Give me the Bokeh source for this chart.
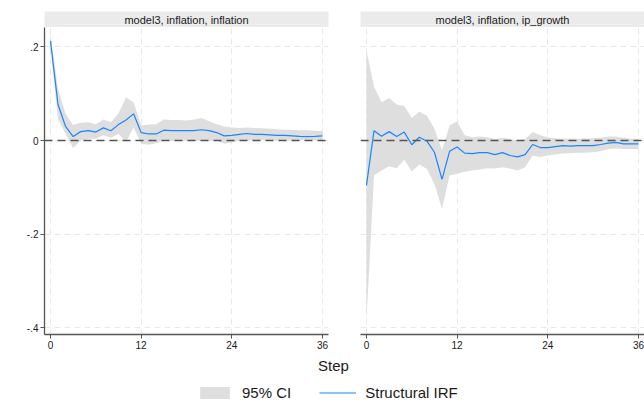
from bokeh.plotting import figure
from bokeh.layouts import column, row
from bokeh.models import Range1d, FixedTicker, Span, Legend, LegendItem, Label, ColumnDataSource
from bokeh.embed import file_html
from bokeh.resources import INLINE
from bokeh.core.properties import value

steps = list(range(37))
x_ticks = [0, 12, 24, 36]
y_ticks = [0.2, 0.0, -0.2, -0.4]
y_tick_labels = {0.2: ".2", 0.0: "0", -0.2: "-.2", -0.4: "-.4"}
panel_titles = ["model3, inflation, inflation", "model3, inflation, ip_growth"]
legend_labels = ["95% CI", "Structural IRF"]
x_title = "Step"

infl_irf = [0.213, 0.077, 0.030, 0.0085, 0.019, 0.021, 0.018, 0.027, 0.021, 0.034,
            0.044, 0.057, 0.017, 0.014, 0.014, 0.022, 0.021, 0.021, 0.021, 0.021,
            0.023, 0.021, 0.017, 0.010, 0.011, 0.013, 0.015, 0.013, 0.013, 0.012,
            0.011, 0.011, 0.010, 0.009, 0.0085, 0.009, 0.010]
infl_hi = [0.228, 0.110, 0.057, 0.033, 0.038, 0.039, 0.035, 0.045, 0.039, 0.058,
           0.092, 0.082, 0.032, 0.034, 0.035, 0.045, 0.044, 0.044, 0.043, 0.045,
           0.048, 0.041, 0.035, 0.030, 0.028, 0.027, 0.028, 0.027, 0.026, 0.025,
           0.024, 0.023, 0.023, 0.022, 0.022, 0.021, 0.021]
infl_lo = [0.198, 0.046, 0.014, -0.016, 0.000, 0.004, 0.004, 0.011, 0.006, 0.014,
           -0.003, 0.028, -0.007, -0.009, -0.006, 0.000, -0.001, -0.001, 0.000, 0.000,
           -0.001, -0.001, 0.000, -0.007, -0.004, 0.000, 0.001, 0.001, 0.001, 0.001,
           0.001, 0.001, 0.001, 0.001, 0.001, 0.001, 0.001]

ip_irf = [-0.096, 0.021, 0.009, 0.019, 0.0085, 0.018, -0.009, 0.007, -0.0014, -0.025,
          -0.083, -0.023, -0.014, -0.027, -0.028, -0.026, -0.026, -0.030, -0.026, -0.032,
          -0.035, -0.030, -0.0085, -0.015, -0.015, -0.013, -0.011, -0.012, -0.011, -0.011,
          -0.011, -0.0085, -0.0057, -0.004, -0.007, -0.007, -0.007]
ip_hi = [0.193, 0.115, 0.082, 0.091, 0.077, 0.074, 0.048, 0.062, 0.053, 0.025,
         -0.021, 0.032, 0.041, 0.011, 0.007, 0.0085, 0.007, 0.0035, 0.006, 0.0035,
         0.000, 0.0035, 0.018, 0.011, 0.007, 0.005, 0.004, 0.004, 0.004, 0.005,
         0.005, 0.006, 0.0085, 0.0085, 0.006, 0.004, 0.0035]
ip_lo = [-0.385, -0.075, -0.064, -0.055, -0.059, -0.041, -0.066, -0.051, -0.061, -0.093,
         -0.146, -0.075, -0.071, -0.067, -0.064, -0.062, -0.059, -0.060, -0.057, -0.060,
         -0.064, -0.057, -0.032, -0.035, -0.032, -0.030, -0.028, -0.027, -0.026, -0.026,
         -0.025, -0.023, -0.018, -0.017, -0.018, -0.018, -0.018]

FONT = "Liberation Sans"
CI_COLOR = "#dedede"
LINE_COLOR = "#1a85ff"
STRIP_COLOR = "#ebebeb"
AXIS_COLOR = "#555555"
TEXT_COLOR = "#1a1a1a"
X_RANGE = (-0.79, 36.8)
Y_RANGE = (-0.4145, 0.2415)


def header(title, w, left, right):
    h = figure(width=w, height=27, x_range=Range1d(0, 1), y_range=Range1d(0, 1),
               x_axis_type=None, y_axis_type=None, toolbar_location=None,
               output_backend="svg", min_border_left=left, min_border_right=right,
               min_border_top=11, min_border_bottom=0,
               background_fill_color=STRIP_COLOR, border_fill_color="white",
               outline_line_color=None)
    h.grid.visible = False
    h.text(x=[0.5], y=[0.5], text=[title], text_align="center", text_baseline="middle",
           text_font=value(FONT), text_font_size="11px", text_color=TEXT_COLOR)
    return h


def style_axis(ax, show):
    ax.axis_line_color = AXIS_COLOR if show else None
    ax.axis_line_width = 1.3
    ax.major_tick_line_color = AXIS_COLOR if show else None
    ax.major_tick_out = 4 if show else 0
    ax.major_tick_in = 0
    ax.minor_tick_line_color = None
    ax.minor_tick_out = 0
    ax.minor_tick_in = 0
    ax.major_label_standoff = 2 if show else 0
    ax.major_label_text_font = FONT
    ax.major_label_text_font_size = "10px" if show else "0px"
    ax.major_label_text_color = TEXT_COLOR if show else None


def panel(w, left, right, irf, lo, hi, show_y):
    p = figure(width=w, height=331, x_range=Range1d(*X_RANGE), y_range=Range1d(*Y_RANGE),
               toolbar_location=None, output_backend="svg",
               min_border_left=left, min_border_right=right, min_border_top=0,
               min_border_bottom=24, outline_line_color=None,
               background_fill_color="white", border_fill_color="white")
    p.varea(x=steps, y1=lo, y2=hi, fill_color=CI_COLOR)
    p.line(x=steps, y=irf, line_color=LINE_COLOR, line_width=1.2)
    p.add_layout(Span(location=0, dimension="width", line_color="#555555",
                      line_width=1.5, line_dash="8 5"))
    p.xaxis.ticker = FixedTicker(ticks=x_ticks)
    p.yaxis.ticker = FixedTicker(ticks=y_ticks)
    p.yaxis.major_label_overrides = y_tick_labels
    for g in (p.xgrid[0], p.ygrid[0]):
        g.grid_line_color = "#e9e9e9"
        g.grid_line_dash = "6 4"
        g.grid_line_width = 1
    style_axis(p.xaxis[0], True)
    style_axis(p.yaxis[0], show_y)
    return p


h1 = header(panel_titles[0], 330, 44, 2)
h2 = header(panel_titles[1], 314, 30, 0)
p1 = panel(330, 44, 2, infl_irf, infl_lo, infl_hi, True)
p2 = panel(314, 30, 0, ip_irf, ip_lo, ip_hi, False)

p3 = figure(width=644, height=44, x_range=Range1d(0, 1), y_range=Range1d(0, 1),
            x_axis_type=None, y_axis_type=None, toolbar_location=None,
            output_backend="svg", min_border=0, outline_line_color=None,
            background_fill_color="white", border_fill_color="white")
p3.grid.visible = False
# legend proxies placed outside the visible range
proxy = ColumnDataSource(data=dict(x=[5, 6], y=[5, 5], y1=[5, 5], y2=[6, 6]))
r_ci = p3.varea(x="x", y1="y1", y2="y2", source=proxy, fill_color=CI_COLOR)
r_ln = p3.line(x="x", y="y", source=proxy, line_color=LINE_COLOR, line_width=1.2)
p3.add_layout(Label(x=333, y=37, x_units="screen", y_units="screen", text=x_title,
                    text_align="center", text_baseline="middle", text_font=FONT,
                    text_font_size="15px", text_color=TEXT_COLOR))
legend = Legend(items=[LegendItem(label=legend_labels[0], renderers=[r_ci]),
                       LegendItem(label=legend_labels[1], renderers=[r_ln])],
                orientation="horizontal", location=(196, 0), glyph_width=37,
                glyph_height=15, label_text_font=FONT, label_text_font_size="15px",
                label_text_color=TEXT_COLOR, label_standoff=9, spacing=28,
                padding=0, margin=0, border_line_color=None, background_fill_alpha=0,
                label_height=20)
p3.add_layout(legend, "center")

layout = column(row(h1, h2), row(p1, p2), p3)

open("out.html", "w").write(file_html(layout, INLINE))
